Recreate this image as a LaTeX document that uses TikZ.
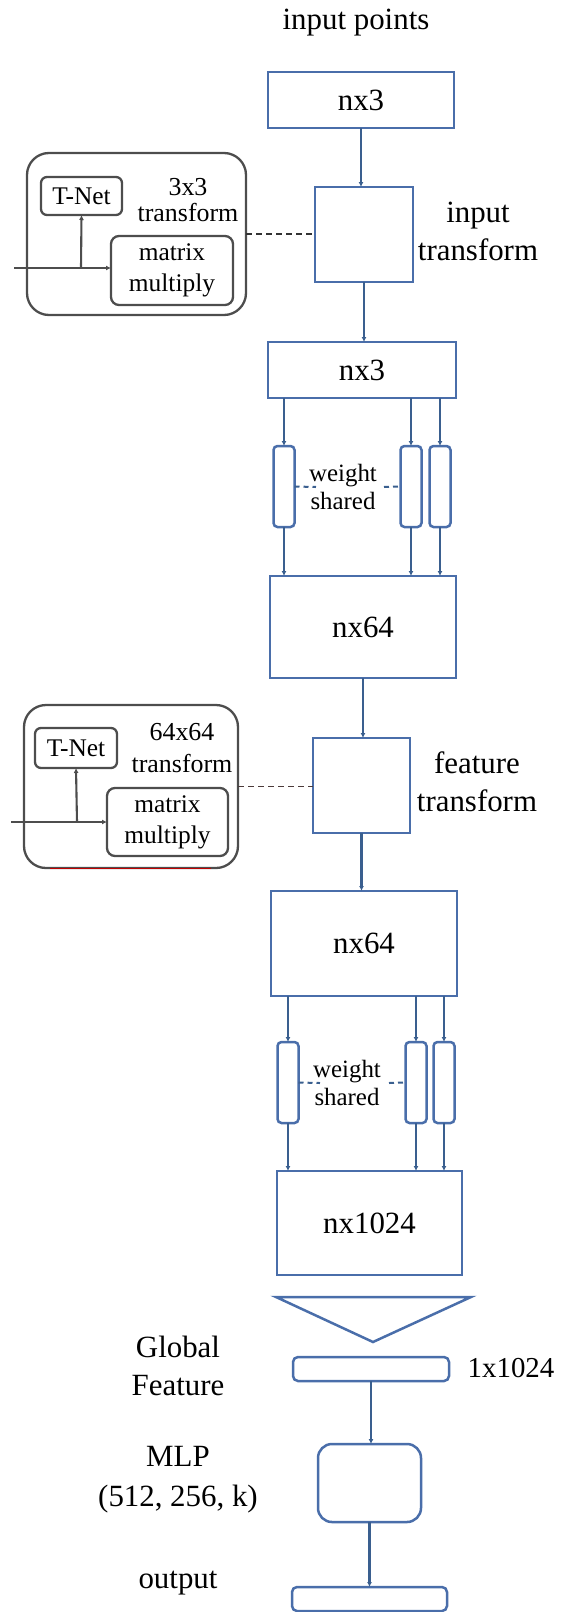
\documentclass[tikz,border=0pt]{standalone}
\usepackage{fontspec}
\setmainfont{Liberation Serif}
\usetikzlibrary{arrows.meta}
\definecolor{boxblue}{HTML}{4A6EAA}
\definecolor{arrowblue}{HTML}{3A5F8F}
\definecolor{tgray}{HTML}{4D4D4D}
\definecolor{linkred}{HTML}{4A3A3A}
\tikzset{
  bigtxt/.style={font=\fontsize{31}{38}\selectfont, align=center, inner sep=0pt},
  smalltxt/.style={font=\fontsize{25.5}{29}\selectfont, align=center, inner sep=0pt},
  layerbox/.style={draw=boxblue, line width=2.8bp, inner sep=0pt, outer sep=0pt,
                   font=\fontsize{31}{38}\selectfont},
  barbox/.style={draw=boxblue, line width=2.5bp, rounded corners=4bp, inner sep=0pt,
                 outer sep=0pt, minimum width=21bp, minimum height=81bp},
  flatbar/.style={draw=boxblue, line width=2.5bp, rounded corners=5bp, inner sep=0pt,
                  outer sep=0pt, minimum width=156bp, minimum height=24bp},
  tframe/.style={draw=tgray, line width=2.3bp, rounded corners=22bp, inner sep=0pt, outer sep=0pt},
  tinner/.style={draw=tgray, line width=2.3bp, rounded corners=8bp, inner sep=0pt, outer sep=0pt,
                 font=\fontsize{25.5}{31}\selectfont, align=center},
  flow/.style={draw=arrowblue, line width=2.1bp, -{Latex[length=5bp,width=5bp]}},
  tflow/.style={draw=tgray, line width=2.1bp, -{Latex[length=5bp,width=5bp]}},
  tlink/.style={draw=black!80, line width=1.8bp, dash pattern=on 6bp off 4bp},
  shlink/.style={draw=arrowblue, line width=2bp, dash pattern=on 5bp off 4bp},
}
\begin{document}
\begin{tikzpicture}[x=1bp, y=-1bp]
\useasboundingbox (0,0) rectangle (566,1612);

% ---- input stage ----
\node[bigtxt] (ptslab) at (356,23) {input points};
\node[layerbox, minimum width=186bp, minimum height=56bp] (in1) at (361,100) {nx3};
\node[layerbox, minimum width=98bp, minimum height=95bp] (itf) at (364,234.5) {};
\node[bigtxt] (itflab) at (478,231) {input\\transform};
\node[layerbox, minimum width=188bp, minimum height=56bp] (in2) at (362,370) {nx3};

% 3x3 transform detail
\node[tframe, minimum width=219bp, minimum height=162bp] (tb1) at (136.5,234) {};
\node[tinner, minimum width=81bp, minimum height=38bp, rounded corners=6bp] (tn1) at (81.5,196) {T-Net};
\node[smalltxt, font=\fontsize{26}{27}\selectfont] (t1lab) at (188,200) {3x3\\transform};
\node[tinner, minimum width=122bp, minimum height=69bp] (mm1) at (172,270.5) {matrix\\multiply};
\coordinate (src1) at (14,268);
\coordinate (br1) at (81,268);
\draw[tflow] (src1) -- (src1 -| mm1.west);
\draw[tflow] (br1) -- (tn1.south);
\draw[tlink] (tb1.east) -- (tb1.east -| itf.west);

\draw[flow] (in1.south) -- (in1.south |- itf.north);
\draw[flow] (itf.south) -- (itf.south |- in2.north);

% ---- shared mlp (64) ----
\node[barbox] (b1a) at (284,486.5) {};
\node[barbox] (b1b) at (411,486.5) {};
\node[barbox] (b1c) at (440,486.5) {};
\node[smalltxt, font=\fontsize{25}{29}\selectfont] (ws1) at (343,487) {weight\\shared};
\node[layerbox, minimum width=186bp, minimum height=102bp] (f1) at (363,627) {nx64};
\foreach \b in {b1a,b1b,b1c}{
  \draw[flow] (\b.north |- in2.south) -- (\b.north);
  \draw[flow] (\b.south) -- (\b.south |- f1.north);
}
\coordinate (ws1l) at (316,487);
\coordinate (ws1r) at (384,487);
\draw[shlink] (b1a.east) -- (ws1l);
\draw[shlink] (ws1r) -- (b1b.west);

% ---- feature transform ----
\node[layerbox, minimum width=97bp, minimum height=95bp] (ftf) at (361.5,785.5) {};
\node[bigtxt] (ftflab) at (477,782) {feature\\transform};
\node[layerbox, minimum width=186bp, minimum height=105bp] (f2) at (364,943.5) {nx64};
\draw[flow] (f1.south) -- (f1.south |- ftf.north);
\draw[flow] (ftf.south) -- (ftf.south |- f2.north);

% 64x64 transform detail
\node[tframe, minimum width=214bp, minimum height=163bp] (tb2) at (131,786.5) {};
\draw[red!75!black, line width=1.2bp] (50,868.5) -- (211,868.5);
\node[tinner, minimum width=82bp, minimum height=40bp, rounded corners=6bp] (tn2) at (76,748) {T-Net};
\node[smalltxt, font=\fontsize{26}{32}\selectfont] (t2lab) at (182,748) {64x64\\transform};
\node[tinner, minimum width=121bp, minimum height=68bp] (mm2) at (167.5,822) {matrix\\multiply};
\coordinate (src2) at (11,822);
\coordinate (br2) at (77,822);
\draw[tflow] (src2) -- (src2 -| mm2.west);
\draw[tflow] (br2) -- (tn2.south);
\draw[tlink, draw=linkred] (tb2.east) -- (tb2.east -| ftf.west);

% ---- shared mlp (1024) ----
\node[barbox] (b2a) at (288,1082.5) {};
\node[barbox] (b2b) at (416,1082.5) {};
\node[barbox] (b2c) at (444,1082.5) {};
\node[smalltxt, font=\fontsize{25}{29}\selectfont] (ws2) at (347,1083) {weight\\shared};
\node[layerbox, minimum width=185bp, minimum height=104bp] (f3) at (369.5,1223) {nx1024};
\foreach \b in {b2a,b2b,b2c}{
  \draw[flow] (\b.north |- f2.south) -- (\b.north);
  \draw[flow] (\b.south) -- (\b.south |- f3.north);
}
\coordinate (ws2l) at (320,1083);
\coordinate (ws2r) at (389,1083);
\draw[shlink] (b2a.east) -- (ws2l);
\draw[shlink] (ws2r) -- (b2b.west);

% ---- max pool and global feature ----
\draw[draw=boxblue, line width=2.5bp, line join=miter] (276,1297) -- (471,1297) -- (373,1342) -- cycle;
\node[flatbar] (gf) at (371,1369) {};
\node[bigtxt, font=\fontsize{29}{34}\selectfont] (gflab) at (511,1368) {1x1024};
\node[bigtxt] (gftxt) at (178,1366) {Global\\Feature};

% ---- classifier ----
\node[draw=boxblue, line width=2.5bp, rounded corners=14bp, inner sep=0pt, outer sep=0pt,
      minimum width=103bp, minimum height=78bp] (mlp) at (369.5,1483) {};
\node[bigtxt, font=\fontsize{31}{40}\selectfont] (mlplab) at (178,1480) {MLP\\(512, 256, k)};
\node[flatbar, minimum width=155bp] (out) at (369.5,1599) {};
\node[bigtxt] (outlab) at (178,1583) {output};
\draw[flow] (gf.south) -- (gf.south |- mlp.north);
\draw[flow] (mlp.south) -- (mlp.south |- out.north);
\end{tikzpicture}
\end{document}
